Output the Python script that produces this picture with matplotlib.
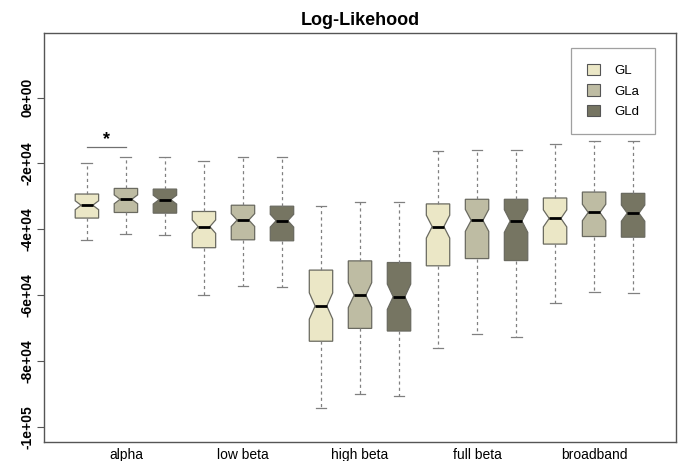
import numpy as np
import matplotlib
matplotlib.use("Agg")
import matplotlib.pyplot as plt
import matplotlib.patches as mpatches

# ── Data ──────────────────────────────────────────────────────
BANDS  = ["alpha", "low beta", "high beta", "full beta", "broadband"]
MODELS = ["GL", "GLa", "GLd"]
COLORS = ["#ebe7c6", "#bebca3", "#767562"]

# one entry per box, ordered band by band, GL / GLa / GLd
WHISK_HI = [-19900, -18100, -18100,
            -19400, -18100, -18100,
            -33000, -31600, -31600,
            -16300, -15800, -15800,
            -14000, -13300, -13300]
Q3       = [-29300, -27600, -27800,
            -34600, -32700, -33000,
            -52400, -49600, -50100,
            -32300, -30900, -30900,
            -30500, -28700, -29100]
MEDIAN   = [-32700, -30900, -31000,
            -39200, -37200, -37400,
            -63300, -60000, -60500,
            -39200, -37300, -37500,
            -36700, -34900, -35100]
Q1       = [-36600, -34900, -35100,
            -45600, -43200, -43500,
            -74000, -70100, -70900,
            -51100, -48900, -49500,
            -44500, -42200, -42400]
WHISK_LO = [-43300, -41300, -41600,
            -60100, -57200, -57600,
            -94300, -89900, -90700,
            -76100, -71700, -72800,
            -62400, -59100, -59400]
N_SUBJ = 73   # sample size giving the notch extent (R: 1.58*IQR/sqrt(n))

YTICKS = [0, -20000, -40000, -60000, -80000, -100000]
YTICK_LABELS = ["0e+00", "-2e+04", "-4e+04", "-6e+04", "-8e+04", "-1e+05"]

plt.rcParams["font.family"] = ["Liberation Sans", "DejaVu Sans"]

fig = plt.figure(figsize=(6.82, 4.61), dpi=100)
ax = fig.add_axes([44 / 682, 1 - 442 / 461, (676 - 44) / 682, (442 - 33) / 461])

stats = []
for i in range(len(MEDIAN)):
    iqr = Q3[i] - Q1[i]
    half = 1.58 * iqr / np.sqrt(N_SUBJ)
    stats.append(dict(med=MEDIAN[i], q1=Q1[i], q3=Q3[i],
                      whislo=WHISK_LO[i], whishi=WHISK_HI[i],
                      cilo=MEDIAN[i] - half, cihi=MEDIAN[i] + half,
                      fliers=[]))

positions = np.arange(1, len(stats) + 1)
bp = ax.bxp(stats, positions=positions, widths=0.6, shownotches=True,
            patch_artist=True, showfliers=False,
            boxprops=dict(edgecolor="#6a6a60", linewidth=0.9),
            medianprops=dict(color="black", linewidth=2.0),
            whiskerprops=dict(color="#808080", linestyle=(0, (2.5, 2.5)),
                              linewidth=0.9),
            capprops=dict(color="#808080", linewidth=0.9),
            capwidths=0.28)
for k, patch in enumerate(bp["boxes"]):
    patch.set_facecolor(COLORS[k % 3])

# significance marker between GL and GLa in alpha
ax.plot([1, 2], [-15000, -15000], color="#707070", linewidth=0.9)
ax.text(1.5, -15300, "*", ha="center", va="bottom",
        fontsize=13, fontweight="bold")

ax.set_xlim(-0.1, 16.1)
ax.set_ylim(-104600, 19600)
ax.set_xticks([2, 5, 8, 11, 14])
ax.set_xticklabels(BANDS, fontsize=10)
ax.tick_params(axis="x", length=0, pad=4)
ax.set_yticks(YTICKS)
ax.set_yticklabels(YTICK_LABELS, rotation=90, va="center",
                   fontsize=10, fontweight="bold")
ax.tick_params(axis="y", length=5, color="#555555", pad=2)
for spine in ax.spines.values():
    spine.set_color("#555555")
    spine.set_linewidth(1.0)

ax.set_title("Log-Likehood", fontsize=13, fontweight="bold", pad=6)

handles = [mpatches.Patch(facecolor=c, edgecolor="#555555", linewidth=0.8)
           for c in COLORS]
leg = ax.legend(handles, MODELS, loc="upper right",
                bbox_to_anchor=(0.967, 0.963), fontsize=9.5,
                frameon=True, fancybox=False, edgecolor="#888888",
                handlelength=0.95, handleheight=0.95, handletextpad=1.1,
                labelspacing=0.55, borderpad=1.2, borderaxespad=0)
leg.get_frame().set_linewidth(0.9)

fig.savefig("out.png", dpi=100)
